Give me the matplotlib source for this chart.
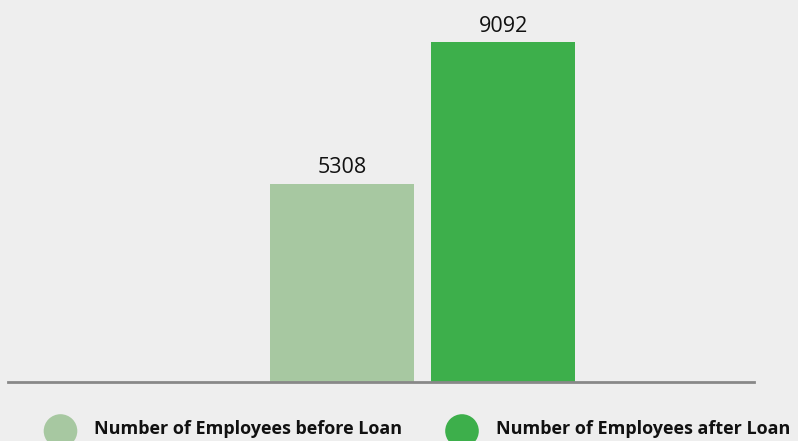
import matplotlib
matplotlib.use("Agg")
import matplotlib.pyplot as plt
from matplotlib.patches import Circle

labels = ["Number of Employees before Loan", "Number of Employees after Loan"]
values = [5308, 9092]
colors = ["#a7c8a1", "#3daf4b"]

W, H = 798, 441
fig = plt.figure(figsize=(W / 100, H / 100), dpi=100)
fig.patch.set_facecolor("#eeeeee")

# axes spans the baseline horizontally; top edge sits at the tallest bar
x0, x1 = 8, 754
y_base, y_top = 382, 42
ax = fig.add_axes([x0 / W, (H - y_base) / H, (x1 - x0) / W, (y_base - y_top) / H])
ax.set_facecolor("none")

pos = [0, 1]
ax.bar(pos, values, width=0.894, color=colors, zorder=2)
ax.set_xlim((x0 - 342) / 161, (x1 - 342) / 161)
ax.set_ylim(0, max(values))

for p, v in zip(pos, values):
    ax.annotate(str(v), (p, v), xytext=(0, 7.5), textcoords="offset points",
                ha="center", va="baseline", fontsize=15.5,
                family="Open Sans", color="#111111")

for s in ["top", "right", "left"]:
    ax.spines[s].set_visible(False)
ax.spines["bottom"].set_color("#888888")
ax.spines["bottom"].set_linewidth(2)
ax.spines["bottom"].set_zorder(3)
ax.set_xticks([])
ax.set_yticks([])

# legend drawn in figure pixel coordinates
leg_y = H - 431
for cx, tx, lab, col in zip([60.5, 462], [94, 496], labels, colors):
    fig.patches.append(Circle((cx, leg_y), 16.8, transform=None,
                              facecolor=col, edgecolor="none"))
    fig.text(tx / W, (H - 429) / H, lab, ha="left", va="center",
             fontsize=13, fontweight="bold", family="Open Sans",
             color="#111111")

fig.savefig("out.png", dpi=100, facecolor=fig.get_facecolor())
